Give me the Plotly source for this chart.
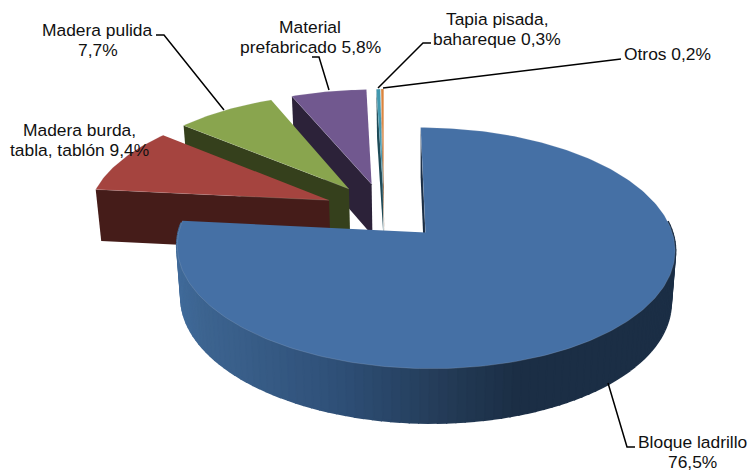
import numpy as np
import plotly.graph_objects as go

# ---- data ----
categories = ["Bloque ladrillo", "Madera burda, tabla, tablón", "Madera pulida",
              "Material prefabricado", "Tapia pisada, bahareque", "Otros"]
values = [76.5, 9.4, 7.7, 5.8, 0.3, 0.2]
label_texts = [["Bloque ladrillo", "76,5%"], ["Madera burda,", "tabla, tablón 9,4%"],
               ["Madera pulida", "7,7%"], ["Material", "prefabricado 5,8%"],
               ["Tapia pisada,", "bahareque 0,3%"], ["Otros 0,2%"]]
top_colors = ["#4570a5", "#a5443f", "#89a54e", "#71588f", "#4198af", "#db843d"]
wall_colors = ["#1b2e45", "#451c19", "#35401c", "#2c2239", "#1d4a57", "#7a4318"]
label_centers = [(692, 442), (79, 130), (97.5, 30), (310, 27), (497, 19), (667.5, 54)]
leaders = [
    [(608, 383), (627, 447), (635, 447)],
    [],
    [(224, 110), (164, 35), (156, 35)],
    [(329, 90), (319, 57), (312, 57)],
    [(378, 88), (423, 43), (431, 43)],
    [(383, 88), (617, 59), (621, 59)],
]
wall_stops_x = [178, 203, 337, 453, 520, 675]
wall_stops_rgb = [(64, 106, 153), (61, 100, 144), (47, 80, 120), (35, 58, 85), (27, 46, 69), (27, 46, 69)]

# ---- projection of the exploded pie ----
CX, CY, RX, RY, P, EXPLODE = 384.0, 211.0, 241.0, 113.0, 0.127, 0.25
DEPTH_VX, DEPTH_K = 420.0, 0.017
LINE_PITCH = 19.5


def top(u, v, depth=52.0):
    w = 1 - P * v
    return CX + RX * u / w, CY + RY * v / w


def base(u, v, depth=52.0):
    x, y = top(u, v)
    return x + (DEPTH_VX - x) * DEPTH_K, y + depth + 2.5 * v


def polar(theta, offset):
    return offset[0] + np.sin(theta), offset[1] - np.cos(theta)


fig = go.Figure()


def poly(xs, ys, fill, line=None, width=0.0):
    fig.add_trace(go.Scatter(x=list(xs), y=list(ys), mode="lines", fill="toself",
                             fillcolor=fill,
                             line=dict(color=line or fill, width=width),
                             hoverinfo="skip", showlegend=False))


total = sum(values)
edges = np.concatenate([[0], np.cumsum(values)]) / total * 2 * np.pi

# back slices first, the big front slice last
for i in list(range(1, len(values)))[::-1] + [0]:
    a0, a1 = edges[i], edges[i + 1]
    mid = (a0 + a1) / 2
    off = (EXPLODE * np.sin(mid), -EXPLODE * np.cos(mid))
    thetas = np.linspace(a0, a1, max(6, int((a1 - a0) * 60)))
    uv = [polar(t, off) for t in thetas]

    # cut wall seen at the start of the slice
    s = uv[0]
    pts = [top(*s), top(*off), base(*off), base(*s)]
    poly([p[0] for p in pts], [p[1] for p in pts], wall_colors[i])

    # outer wall, only the big slice shows it, shaded across its width
    if i == 0:
        wall_uv = uv[::2] + [uv[-1]]
        for k in range(len(wall_uv) - 1):
            t0, t1 = top(*wall_uv[k]), top(*wall_uv[k + 1])
            b1, b0 = base(*wall_uv[k + 1], 51.0), base(*wall_uv[k], 51.0)
            if t0[1] < 225 and t1[1] < 225:
                continue
            xm = (t0[0] + t1[0]) / 2
            rgb = [np.interp(xm, wall_stops_x, [c[j] for c in wall_stops_rgb]) for j in range(3)]
            col = "rgb(%d,%d,%d)" % tuple(rgb)
            poly([t0[0], t1[0], b1[0], b0[0]], [t0[1], t1[1], b1[1], b0[1]], col, col, 2.5)

    # top face
    face = [top(*off)] + [top(*q) for q in uv]
    poly([p[0] for p in face], [p[1] for p in face], top_colors[i],
         "rgba(215,215,225,0.2)", 0.8)

# leader lines
for path in leaders:
    if path:
        fig.add_trace(go.Scatter(x=[p[0] for p in path], y=[p[1] for p in path], mode="lines",
                                 line=dict(color="#000000", width=1.5),
                                 hoverinfo="skip", showlegend=False))

for lines, (x, y) in zip(label_texts, label_centers):
    for n, text in enumerate(lines):
        fig.add_annotation(x=x, y=y + n * LINE_PITCH, text=text, showarrow=False,
                           xanchor="center", yanchor="middle", align="center",
                           font=dict(family="Liberation Sans", size=17.4, color="#111111"))

fig.update_layout(width=748, height=471, margin=dict(l=0, r=0, t=0, b=0),
                  paper_bgcolor="white", plot_bgcolor="white", showlegend=False,
                  xaxis=dict(range=[0, 748], visible=False, fixedrange=True),
                  yaxis=dict(range=[471, 0], visible=False, fixedrange=True))
fig.write_html("out.html", config={"displayModeBar": False},
               post_script="document.body.style.margin='0';document.documentElement.style.overflow='hidden';")
